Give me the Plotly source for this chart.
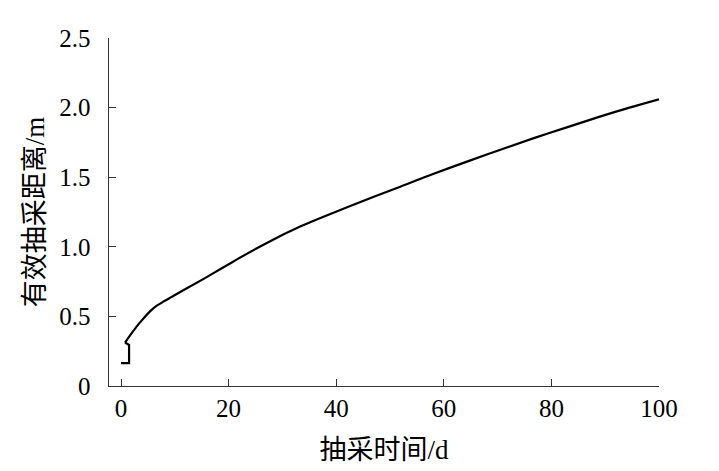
import plotly.graph_objects as go

# initial step segment
step_days = [0, 1.5, 1.5, 0.75]
step_distance = [0.165, 0.165, 0.295, 0.312]

# main curve
curve_days = [0.75, 2.0, 3.5, 6.0, 8.5, 11.0, 14.7, 20.9, 27.1, 33.3, 39.5, 45.7, 51.9, 58.0, 64.3, 70.4, 76.6, 83.0, 89.0, 94.5, 100]
curve_distance = [0.312, 0.38, 0.455, 0.558, 0.62, 0.675, 0.755, 0.895, 1.028, 1.145, 1.245, 1.340, 1.432, 1.523, 1.612, 1.696, 1.779, 1.860, 1.935, 2.00, 2.06]

x_ticks = [0, 20, 40, 60, 80, 100]
y_ticks = [0, 0.5, 1.0, 1.5, 2.0, 2.5]
y_tick_labels = ["0", "0.5", "1.0", "1.5", "2.0", "2.5"]

serif = "Liberation Serif, Times New Roman, serif"
title_font = "Liberation Serif, Noto Sans CJK SC, serif"
pad = "\u00a0\u00a0"

fig = go.Figure()
fig.add_trace(go.Scatter(x=step_days, y=step_distance, mode="lines",
                         line=dict(color="black", width=2.2),
                         showlegend=False))
fig.add_trace(go.Scatter(x=curve_days, y=curve_distance, mode="lines",
                         line=dict(color="black", width=2.2, shape="spline", smoothing=1.0),
                         showlegend=False))

fig.update_layout(
    width=711, height=463,
    margin=dict(l=101, r=60, t=30, b=85),
    paper_bgcolor="white", plot_bgcolor="white",
    font=dict(family=serif, size=25, color="black"),
    xaxis=dict(
        range=[-2.23, 100], tickmode="array", tickvals=x_ticks, ticktext=[str(v) for v in x_ticks],
        ticks="inside", ticklen=7, tickcolor="#333", tickwidth=1,
        showline=True, linecolor="#333", linewidth=1.2,
        showgrid=False, zeroline=False,
        tickfont=dict(family=serif, size=25, color="black"),
        title=dict(text="抽采时间/d", standoff=19, font=dict(size=27, family=title_font)),
    ),
    yaxis=dict(
        range=[0, 2.5], tickmode="array", tickvals=y_ticks, ticktext=[t + pad for t in y_tick_labels],
        ticks="inside", ticklen=7, tickcolor="#333", tickwidth=1,
        showline=True, linecolor="#333", linewidth=1.2,
        showgrid=False, zeroline=False,
        tickfont=dict(family=serif, size=25, color="black"),
        title=dict(text="有效抽采距离/m", standoff=6, font=dict(size=27, family=title_font)),
    ),
)

fig.write_html("out.html")
